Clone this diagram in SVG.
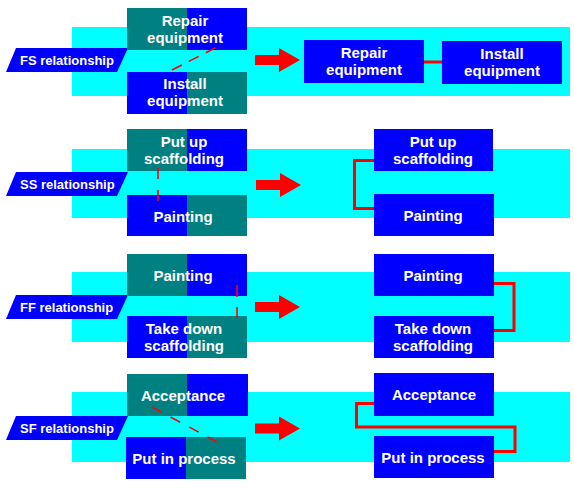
<svg xmlns="http://www.w3.org/2000/svg" width="574" height="498" viewBox="0 0 574 498">
<style>
.band{fill:#00FFFF}
.teal{fill:#008080}
.blue{fill:#0000FF}
.t{font-family:"Liberation Sans",Arial,sans-serif;font-weight:bold;font-size:15px;fill:#FFFFFF;text-anchor:middle}
.lt{font-family:"Liberation Sans",Arial,sans-serif;font-weight:bold;font-size:13px;fill:#FFFFFF}
.dash{stroke:#FF0000;stroke-width:1.6;fill:none}
.conn{stroke:#FF0000;stroke-width:3;fill:none}
.arrow{fill:#FF0000}
</style>
<defs>
<polygon id="bigArrow" points="0,-5 24,-5 24,-12 45,0 24,12 24,5 0,5"/>
<polygon id="lbl" points="16,0 128,0 117,24 6,24"/>
</defs>
<rect width="574" height="498" fill="#FFFFFF"/>
<!-- bands -->
<rect class="band" x="72" y="27" width="498" height="69"/>
<rect class="band" x="72" y="149" width="498" height="69"/>
<rect class="band" x="72" y="272" width="498" height="70"/>
<rect class="band" x="72" y="392" width="498" height="70"/>

<!-- FS row -->
<g id="fs-label"><use href="#lbl" class="blue" y="48"/><text class="lt" x="20" y="65">FS relationship</text></g>
<g id="fs-repair-left"><rect class="teal" x="127" y="8" width="60" height="42"/><rect class="blue" x="187" y="8" width="60" height="42"/><text class="t" x="185" y="26">Repair</text><text class="t" x="185" y="43">equipment</text></g>
<g id="fs-install-left"><rect class="blue" x="127" y="72" width="60" height="42"/><rect class="teal" x="187" y="72" width="60" height="42"/><text class="t" x="185" y="89">Install</text><text class="t" x="185" y="106">equipment</text></g>
<g id="fs-repair-right"><rect class="blue" x="304" y="40" width="120" height="43"/><text class="t" x="364" y="58">Repair</text><text class="t" x="364" y="75">equipment</text></g>
<g id="fs-install-right"><rect class="blue" x="442" y="41" width="120" height="43"/><text class="t" x="502" y="59">Install</text><text class="t" x="502" y="76">equipment</text></g>

<!-- SS row -->
<g id="ss-label"><use href="#lbl" class="blue" y="172"/><text class="lt" x="20" y="189">SS relationship</text></g>
<g id="ss-putup-left"><rect class="teal" x="127" y="129" width="60" height="42"/><rect class="blue" x="187" y="129" width="60" height="42"/><text class="t" x="184" y="147">Put up</text><text class="t" x="184" y="164">scaffolding</text></g>
<g id="ss-painting-left"><rect class="blue" x="127" y="195" width="60" height="41"/><rect class="teal" x="187" y="195" width="60" height="41"/><text class="t" x="183" y="222">Painting</text></g>
<g id="ss-putup-right"><rect class="blue" x="374" y="129" width="119" height="42"/><text class="t" x="433" y="147">Put up</text><text class="t" x="433" y="164">scaffolding</text></g>
<g id="ss-painting-right"><rect class="blue" x="374" y="194" width="120" height="42"/><text class="t" x="433" y="221">Painting</text></g>

<!-- FF row -->
<g id="ff-label"><use href="#lbl" class="blue" y="295"/><text class="lt" x="20" y="312">FF relationship</text></g>
<g id="ff-painting-left"><rect class="teal" x="127" y="254" width="60" height="42"/><rect class="blue" x="187" y="254" width="60" height="42"/><text class="t" x="183" y="281">Painting</text></g>
<g id="ff-takedown-left"><rect class="blue" x="127" y="316" width="60" height="42"/><rect class="teal" x="187" y="316" width="60" height="42"/><text class="t" x="184" y="334">Take down</text><text class="t" x="184" y="351">scaffolding</text></g>
<g id="ff-painting-right"><rect class="blue" x="374" y="254" width="120" height="42"/><text class="t" x="433" y="281">Painting</text></g>
<g id="ff-takedown-right"><rect class="blue" x="374" y="316" width="120" height="42"/><text class="t" x="433" y="334">Take down</text><text class="t" x="433" y="351">scaffolding</text></g>

<!-- SF row -->
<g id="sf-label"><use href="#lbl" class="blue" y="416"/><text class="lt" x="20" y="433">SF relationship</text></g>
<g id="sf-accept-left"><rect class="teal" x="127" y="374" width="60" height="42"/><rect class="blue" x="187" y="374" width="61" height="42"/><text class="t" x="183" y="401">Acceptance</text></g>
<g id="sf-process-left"><rect class="blue" x="126" y="437" width="60" height="42"/><rect class="teal" x="186" y="437" width="60" height="42"/><text class="t" x="184" y="464">Put in process</text></g>
<g id="sf-accept-right"><rect class="blue" x="374" y="373" width="120" height="43"/><text class="t" x="434" y="400">Acceptance</text></g>
<g id="sf-process-right"><rect class="blue" x="374" y="436" width="120" height="42"/><text class="t" x="433" y="463">Put in process</text></g>

<!-- connectors -->
<g id="connectors">
<line class="dash" x1="172" y1="70" x2="217" y2="47" stroke-dasharray="11 8"/>
<line class="dash" x1="158" y1="168" x2="158" y2="201" stroke-dasharray="11 11"/>
<line class="dash" x1="237" y1="285" x2="237" y2="318" stroke-width="1" stroke-dasharray="12 10"/>
<line class="dash" x1="152" y1="407" x2="217" y2="442" stroke-dasharray="11 10"/>
<use href="#bigArrow" class="arrow" x="255" y="60"/>
<use href="#bigArrow" class="arrow" x="256" y="185"/>
<use href="#bigArrow" class="arrow" x="255" y="307"/>
<use href="#bigArrow" class="arrow" x="255" y="428.5"/>
<line class="conn" x1="424" y1="62" x2="442" y2="62" stroke-width="4"/>
<polyline class="conn" points="374,160.5 354.5,160.5 354.5,208.5 374,208.5"/>
<polyline class="conn" points="494,283.5 514,283.5 514,330.5 494,330.5"/>
<polyline class="conn" points="374,403.5 356.5,403.5 356.5,427 515,427 515,451.5 494,451.5"/>
</g>
</svg>
